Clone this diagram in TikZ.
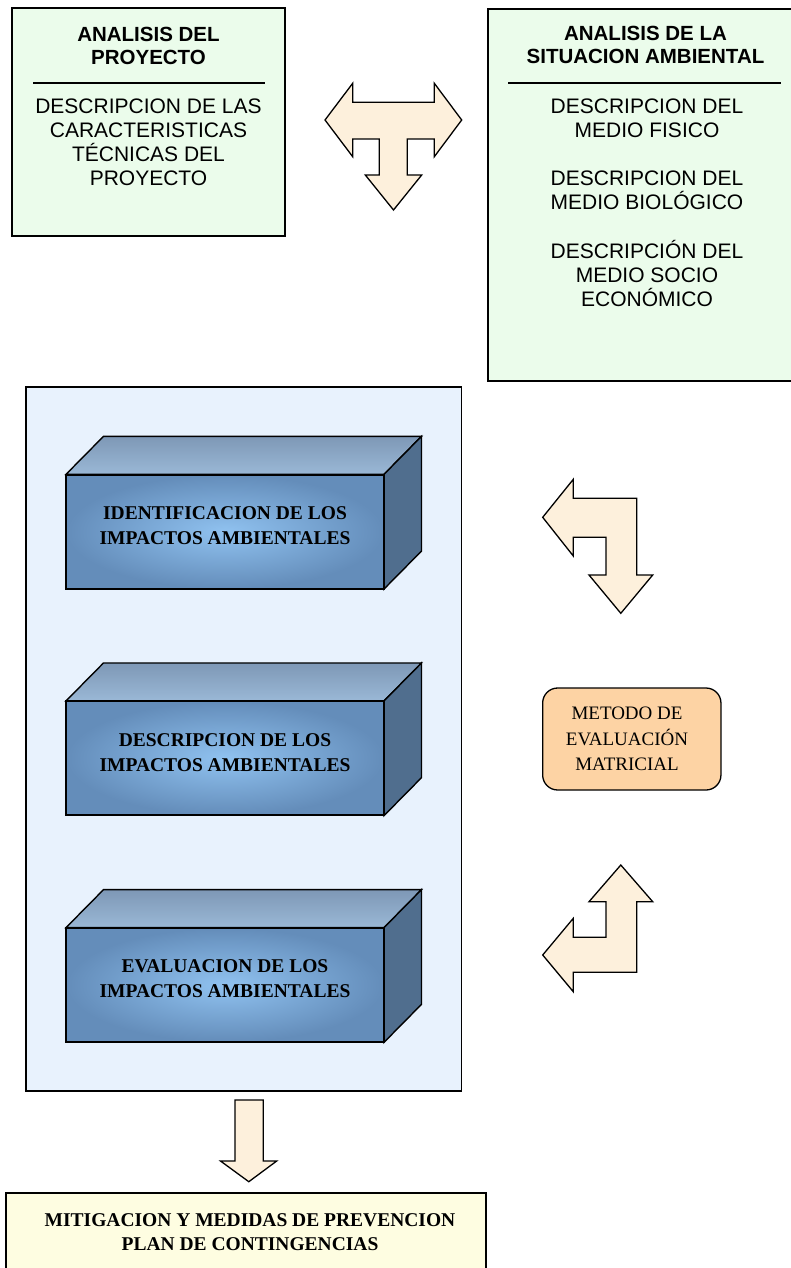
\documentclass[tikz,border=0pt]{standalone}
\usepackage{fontspec}
\setmainfont{Liberation Serif}
\newfontfamily\arialfont{Liberation Sans}
\usetikzlibrary{calc}
\definecolor{greenfill}{HTML}{EBFCEB}
\definecolor{arrowfill}{HTML}{FDF0DC}
\definecolor{bluebg}{HTML}{E8F2FD}
\definecolor{peach}{HTML}{FDD3A4}
\definecolor{yellowfill}{HTML}{FEFDE1}
\definecolor{frontin}{HTML}{90C2F0}
\definecolor{frontout}{HTML}{648DBA}
\definecolor{toptop}{HTML}{7E98B6}
\definecolor{topbot}{HTML}{9AB8D6}
\definecolor{sideface}{HTML}{506E8E}
\tikzset{
  panel/.style={draw=black, line width=1.3pt, inner sep=0pt},
  sanstitle/.style={font=\arialfont\bfseries\fontsize{20.5}{23}\selectfont, align=center, inner sep=0pt, anchor=north},
  sansbody/.style={font=\arialfont\fontsize{21}{24.2}\selectfont, align=center, inner sep=0pt, anchor=north},
  blockarrow/.style={draw=black, line width=1.3pt, fill=arrowfill, line join=miter},
  frontface/.style={draw=black, line width=1.4pt, inner color=frontin, outer color=frontout,
    minimum width=316.6pt, minimum height=113.3pt, inner sep=0pt},
  topface/.style={draw=black, line width=1.4pt, top color=toptop, bottom color=topbot, line join=miter},
  sideface/.style={draw=black, line width=1.4pt, fill=sideface, line join=miter},
  boxlabel/.style={font=\bfseries\fontsize{19.5}{25}\selectfont, align=center, inner sep=0pt},
  seplane/.style={line width=1.8pt}
}
\begin{document}
\begin{tikzpicture}[x=1pt,y=-1pt]
\useasboundingbox (0,0) rectangle (791,1268);
\clip (0,0) rectangle (791,1268);
\fill[white] (0,0) rectangle (791,1268);

% top-left panel
\node[panel, fill=greenfill, minimum width=273pt, minimum height=228pt] (proj) at (148.5,122) {};
\node[sanstitle] (projt) at (148.5,26.5) {ANALISIS DEL\\PROYECTO};
\draw[seplane] (33,83) -- (265,83);
\node[sansbody] (projd) at (148.5,98.3) {DESCRIPCION DE LAS\\CARACTERISTICAS\\TÉCNICAS DEL\\PROYECTO};

% top-right panel
\node[panel, fill=greenfill, minimum width=312pt, minimum height=372pt] (sit) at (644,195) {};
\node[sanstitle] (sitt) at (645.5,26) {ANALISIS DE LA\\SITUACION AMBIENTAL};
\draw[seplane] (508,83) -- (781,83);
\node[sansbody] (sitd) at (647,98.3) {DESCRIPCION DEL\\MEDIO FISICO\\[24.2pt]DESCRIPCION DEL\\MEDIO BIOLÓGICO\\[24.2pt]DESCRIPCIÓN DEL\\MEDIO SOCIO\\ECONÓMICO};

% T arrow
\draw[blockarrow] (325,120) -- (352.7,83.3) -- (352.7,102.3) -- (434.3,102.3) -- (434.3,83.3)
  -- (461.7,120) -- (434.3,156.7) -- (434.3,139) -- (407.3,139) -- (407.3,175) -- (421.7,175)
  -- (393.5,210) -- (365.3,175) -- (379.3,175) -- (379.3,139) -- (352.7,139) -- (352.7,156.7) -- cycle;

% big left panel
\node[panel, fill=bluebg, minimum width=435.5pt, minimum height=704pt] (imp) at (243.75,739) {};

% 3D boxes
\foreach \nm/\cy/\txt in {b1/531.7/{IDENTIFICACION DE LOS\\IMPACTOS AMBIENTALES},
                          b2/758.3/{DESCRIPCION DE LOS\\IMPACTOS AMBIENTALES},
                          b3/985/{EVALUACION DE LOS\\IMPACTOS AMBIENTALES}}{
  \node[frontface] (\nm) at (225,\cy) {};
  \shadedraw[topface] (\nm.north west) -- ++(37.5,-38) -- ($(\nm.north east)+(37.5,-38)$) -- (\nm.north east) -- cycle;
  \filldraw[sideface] (\nm.north east) -- ++(37.5,-38) -- ($(\nm.south east)+(37.5,-38)$) -- (\nm.south east) -- cycle;
  \draw[line width=1.4pt] (\nm.north west) rectangle (\nm.south east);
  \node[boxlabel] (\nm l) at ($(\nm.center)+(0,-6)$) {\txt};
}

% right arrows and method box
\draw[blockarrow] (542.7,517.3) -- (573.3,479.3) -- (573.3,498.3) -- (636.7,498.3) -- (636.7,575)
  -- (652.7,575) -- (620.8,613.3) -- (589,575) -- (606,575) -- (606,537.3) -- (573.3,537.3) -- (573.3,556) -- cycle;

\node[panel, fill=peach, rounded corners=15pt, minimum width=178.3pt, minimum height=102pt] (met) at (631.8,739) {};
\node[font=\fontsize{19}{25.7}\selectfont, align=center, inner sep=0pt] (metl) at (627,739) {METODO DE\\EVALUACIÓN\\MATRICIAL};

\draw[blockarrow] (620.8,865) -- (652.7,901.7) -- (636.7,901.7) -- (636.7,972.3) -- (573.3,972.3)
  -- (573.3,991.7) -- (542.7,955) -- (573.3,918.3) -- (573.3,937.3) -- (606,937.3) -- (606,901.7) -- (589,901.7) -- cycle;

% bottom arrow and box
\draw[blockarrow] (235,1100) -- (263.3,1100) -- (263.3,1161) -- (276.7,1161) -- (248.8,1181.7)
  -- (220.5,1161) -- (235,1161) -- cycle;

\node[panel, fill=yellowfill, minimum width=480pt, minimum height=100pt] (mit) at (246,1243) {};
\node[boxlabel, anchor=north, font=\bfseries\fontsize{19.5}{24}\selectfont] (mitl) at (250,1213) {MITIGACION Y MEDIDAS DE PREVENCION\\PLAN DE CONTINGENCIAS};
\end{tikzpicture}
\end{document}
